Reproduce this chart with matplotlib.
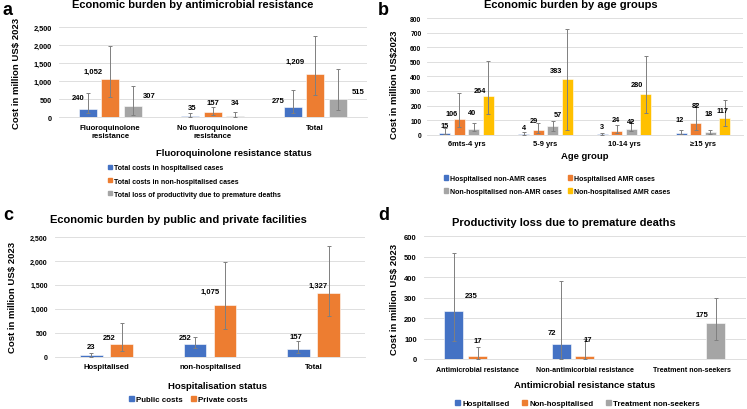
import matplotlib
matplotlib.use("Agg")
import matplotlib.pyplot as plt
import numpy as np
from matplotlib.patches import Patch

plt.rcParams['font.family'] = ['Liberation Sans', 'DejaVu Sans']
plt.rcParams['font.weight'] = 'bold'

BLUE, ORANGE, GRAY, YELLOW = '#4472C4', '#ED7D31', '#A5A5A5', '#FFC000'
ERR = '#7F7F7F'
GRID = '#D9D9D9'

# ---- data ----
# a: economic burden by antimicrobial resistance
a_cats = ['Fluoroquinolone\nresistance', 'No fluoroquinolone\nresistance', 'Total']
a_series = ['Total costs in hospitalised cases',
            'Total costs in non-hospitalised cases',
            'Total loss of productivity due to premature deaths']
a_vals = [[240, 35, 275], [1052, 157, 1209], [307, 34, 515]]
a_low = [[111, 17, 111], [555, 74, 629], [74, 0, 203]]
a_high = [[667, 111, 768], [1972, 278, 2268], [879, 157, 1342]]

# b: economic burden by age groups
b_cats = ['6mts-4 yrs', '5-9 yrs', '10-14 yrs', '\u226515 yrs']
b_series = ['Hospitalised non-AMR cases', 'Hospitalised AMR cases',
            'Non-hospitalised non-AMR cases', 'Non-hospitalised AMR cases']
b_vals = [[15, 4, 3, 12], [106, 29, 24, 82], [40, 57, 42, 18], [264, 383, 280, 117]]
b_low = [[5, 0, 0, 5], [51, 14, 14, 34], [23, 25, 23, 5], [142, 34, 149, 58]]
b_high = [[44, 16, 10, 34], [284, 78, 66, 219], [78, 95, 92, 33], [508, 727, 542, 236]]

# c: public vs private facilities
c_cats = ['Hospitalised', 'non-hospitalised', 'Total']
c_series = ['Public costs', 'Private costs']
c_vals = [[23, 252, 157], [252, 1075, 1327]]
c_low = [[0, 180, 70], [105, 580, 850]]
c_high = [[73, 405, 330], [700, 1975, 2310]]

# d: productivity loss due to premature deaths
d_cats = ['Antimicrobial resistance', 'Non-antimicorbial resistance', 'Treatment non-seekers']
d_series = ['Hospitalised', 'Non-hospitalised', 'Treatment non-seekers']
d_vals = [[235, 72, np.nan], [17, 17, np.nan], [np.nan, np.nan, 175]]
d_low = [[87, 0, np.nan], [2, 0, np.nan], [np.nan, np.nan, 93]]
d_high = [[517, 380, np.nan], [57, 100, np.nan], [np.nan, np.nan, 297]]

# label offsets (px) from bar top, per series / category
a_off = [[(-9.5, 10.7), (2, 9), (-14.5, 7)],
         [(-16.7, 8), (0, 9), (-20, 12.5)],
         [(16.5, 11), (0, 14), (20, 7)]]
b_off = [[(0, 7.5), (0, 7), (0, 8), (-2, 13)],
         [(-8, 6), (-4, 10), (-1, 12), (0, 17)],
         [(-2, 16), (5, 12), (0, 7), (-2, 19)],
         [(-8, 6), (-11, 8), (-9, 9), (-2, 7.6)]]
c_off = [[(0, 9), (-10, 7), (-3, 12)],
         [(-12, 7), (-15, 14), (-10, 8)]]
d_off = [[(17, 15), (-9, 12), None],
         [(0, 15), (3, 16), None],
         [None, None, (-14, 9)]]

W, H = 747, 410
fig = plt.figure(figsize=(W / 100, H / 100), dpi=100)


def px_axes(x0, y_top, x1, y_bot):
    return fig.add_axes([x0 / W, 1 - y_bot / H, (x1 - x0) / W, (y_bot - y_top) / H])


def ftext(x, y, s, **kw):
    fig.text(x / W, 1 - y / H, s, **kw)


def panel(ax, cats, vals, low, high, colors, width, step, ymax, ystep,
          offsets, tick_fs, cat_fs, pad, lab_fs=5.5):
    x = np.arange(len(cats))
    n = len(vals)
    for i in range(n):
        v = np.array(vals[i], float)
        lo = np.array(low[i], float)
        hi = np.array(high[i], float)
        pos = x + (i - (n - 1) / 2) * step
        ok = ~np.isnan(v)
        ax.bar(pos[ok], v[ok], width, color=colors[i], edgecolor='white',
               linewidth=0.4, zorder=2)
        ax.errorbar(pos[ok], v[ok], yerr=[v[ok] - lo[ok], hi[ok] - v[ok]], fmt='none',
                    ecolor=ERR, elinewidth=0.7, capsize=1.5, capthick=0.7, zorder=3)
        for j in range(len(cats)):
            if not ok[j]:
                continue
            dx, dy = offsets[i][j]
            ax.annotate(f'{int(v[j]):,}', (pos[j], v[j]), xytext=(dx * 0.72, dy * 0.72),
                        textcoords='offset points', ha='center', va='center',
                        fontsize=lab_fs, fontweight='bold', zorder=4)
    ax.set_xlim(-0.5, len(cats) - 0.5)
    ax.set_ylim(0, ymax)
    ax.set_yticks(np.arange(0, ymax + 1, ystep))
    ax.set_yticklabels([f'{t:,}' for t in range(0, ymax + 1, ystep)], fontsize=tick_fs)
    ax.set_xticks(x)
    ax.set_xticklabels(cats, fontsize=cat_fs, linespacing=1.1)
    ax.tick_params(length=0, pad=pad)
    ax.grid(axis='y', color=GRID, linewidth=0.6, zorder=0)
    ax.set_axisbelow(True)
    for s in ['top', 'right', 'left']:
        ax.spines[s].set_visible(False)
    ax.spines['bottom'].set_color(GRID)
    ax.spines['bottom'].set_linewidth(0.6)


def legend(handles_colors, labels, x, y, ncol=1, colsp=1.0, labsp=0.6, fs=5):
    handles = [Patch(color=c) for c in handles_colors]
    fig.legend(handles, labels, loc='upper left', bbox_to_anchor=(x / W, 1 - y / H),
               bbox_transform=fig.transFigure, ncol=ncol, frameon=False,
               fontsize=fs, handlelength=0.6, handleheight=0.6, handletextpad=0.3,
               borderpad=0, borderaxespad=0, columnspacing=colsp, labelspacing=labsp)


# ---- panel a ----
ax_a = px_axes(59, 28.3, 366.5, 118.3)
panel(ax_a, a_cats, a_vals, a_low, a_high, [BLUE, ORANGE, GRAY], 0.172, 0.22,
      2500, 500, a_off, 5.3, 5.6, 5)
ftext(3, 2, 'a', fontsize=13, fontweight='bold', va='top')
ftext(193, 5, 'Economic burden by antimicrobial resistance', fontsize=8, ha='center', va='center')
ftext(17, 73, 'Cost in million US$ 2023', fontsize=6.8, rotation=90, ha='center', va='center')
ftext(234, 153, 'Fluoroquinolone resistance status', fontsize=6.8, ha='center', va='center')
legend([BLUE, ORANGE, GRAY], a_series, 108, 165.5, labsp=0.88)

# ---- panel b ----
ax_b = px_axes(427, 19, 742.5, 135.7)
panel(ax_b, b_cats, b_vals, b_low, b_high, [BLUE, ORANGE, GRAY, YELLOW], 0.14, 0.184,
      800, 100, b_off, 4.8, 5.4, 4, lab_fs=5.3)
ftext(378, 2, 'b', fontsize=13, fontweight='bold', va='top')
ftext(571, 5, 'Economic burden by age groups', fontsize=8, ha='center', va='center')
ftext(395, 85, 'Cost in million US$2023', fontsize=6.8, rotation=90, ha='center', va='center')
ftext(585, 157, 'Age group', fontsize=6.8, ha='center', va='center')
legend([BLUE, GRAY, ORANGE, YELLOW], [b_series[0], b_series[2], b_series[1], b_series[3]],
       444, 176, ncol=2, colsp=0.8, labsp=0.88)

# ---- panel c ----
ax_c = px_axes(54.75, 238, 365.25, 357.5)
panel(ax_c, c_cats, c_vals, c_low, c_high, [BLUE, ORANGE], 0.222, 0.29,
      2500, 500, c_off, 5.0, 5.6, 5)
ftext(3, 207, 'c', fontsize=13, fontweight='bold', va='top')
ftext(178, 220, 'Economic burden by public and private facilities', fontsize=8, ha='center', va='center')
ftext(13, 297, 'Cost in million US$ 2023', fontsize=6.8, rotation=90, ha='center', va='center')
ftext(217, 387, 'Hospitalisation status', fontsize=6.8, ha='center', va='center')
legend([BLUE, ORANGE], c_series, 129, 397, ncol=2, colsp=1.0, fs=5.7)

# ---- panel d ----
ax_d = px_axes(423.8, 237.3, 746, 360)
panel(ax_d, d_cats, d_vals, d_low, d_high, [BLUE, ORANGE, GRAY], 0.176, 0.22,
      600, 100, d_off, 5.5, 5.1, 5)
ftext(378, 207, 'd', fontsize=13, fontweight='bold', va='top')
ftext(564, 223, 'Productivity loss due to premature deaths', fontsize=8, ha='center', va='center')
ftext(394, 299, 'Cost in million US$ 2023', fontsize=6.8, rotation=90, ha='center', va='center')
ftext(585, 386, 'Antimicrobial resistance status', fontsize=6.8, ha='center', va='center')
legend([BLUE, ORANGE, GRAY], d_series, 455, 401, ncol=3, colsp=1.6, fs=5.7)

fig.savefig('out.png', dpi=100)
